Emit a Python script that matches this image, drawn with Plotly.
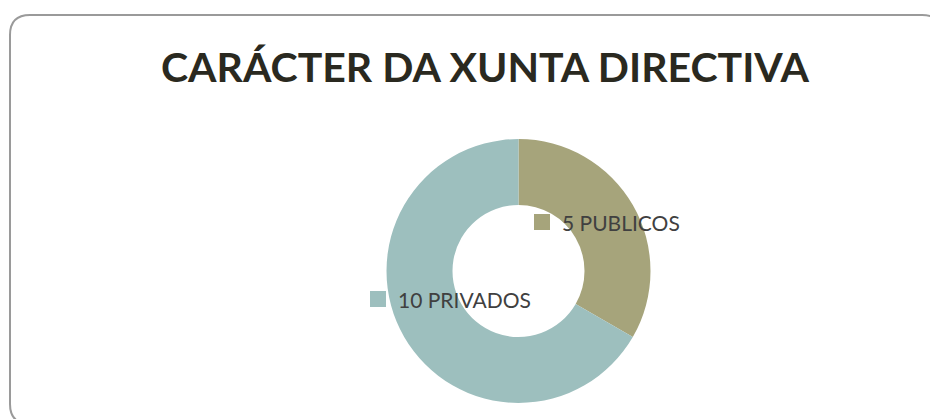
import plotly.graph_objects as go

# Data
categories = ["PUBLICOS", "PRIVADOS"]
values = [5, 10]
colors = ["#A6A47B", "#9DBFBE"]
title_text = "CARÁCTER DA XUNTA DIRECTIVA"

# The page body has an 8px default margin; the figure fills the rest of the window.
OFF = 8
W, H = 938 - OFF, 419 - OFF

def px(x):
    return (x - OFF) / W

def py(y):
    return 1 - (y - OFF) / H

fig = go.Figure()
fig.add_trace(go.Pie(
    labels=categories,
    values=values,
    marker=dict(colors=colors, line=dict(width=0)),
    hole=0.5,
    sort=False,
    direction="clockwise",
    rotation=0,
    textinfo="none",
    hoverinfo="label+value",
    showlegend=False,
    domain=dict(x=[px(518.5 - 132), px(518.5 + 132)], y=[py(271 + 132), py(271 - 132)]),
))

# Rounded border (right and bottom edges run just past the visible area)
x0, y0, x1, y1, r = px(10), py(15), px(942), py(424), 20
rx, ry = r / W, r / H
path = (f"M {x0+rx},{y0} L {x1-rx},{y0} Q {x1},{y0} {x1},{y0-ry} "
        f"L {x1},{y1+ry} Q {x1},{y1} {x1-rx},{y1} "
        f"L {x0+rx},{y1} Q {x0},{y1} {x0},{y1+ry} "
        f"L {x0},{y0-ry} Q {x0},{y0} {x0+rx},{y0} Z")
shapes = [dict(type="path", xref="paper", yref="paper", path=path,
               line=dict(color="#9A9A9A", width=2), fillcolor="rgba(0,0,0,0)")]

# Label markers and texts
label_pos = [(534, 222), (370, 299)]
texts = [f"{v} {c}" for v, c in zip(values, categories)]
annotations = []
for (lx, ly), t, col in zip(label_pos, texts, colors):
    shapes.append(dict(type="rect", xref="paper", yref="paper",
                       x0=px(lx), x1=px(lx + 16), y0=py(ly + 8), y1=py(ly - 8),
                       fillcolor=col, line=dict(width=0)))
    annotations.append(dict(text=t, xref="paper", yref="paper", x=px(lx + 26), y=py(ly),
                            xanchor="left", yanchor="middle", showarrow=False,
                            font=dict(family="Lato, sans-serif", size=21, color="#404040")))

annotations.append(dict(text=f"<b>{title_text}</b>", xref="paper", yref="paper",
                        x=px(485), y=py(66), xanchor="center", yanchor="middle",
                        showarrow=False,
                        font=dict(family="Lato, sans-serif", size=41, color="#2A2920")))

fig.update_layout(
    width=W, height=H,
    margin=dict(l=0, r=0, t=0, b=0),
    paper_bgcolor="white",
    plot_bgcolor="white",
    shapes=shapes,
    annotations=annotations,
)

fig.write_html("out.html")
